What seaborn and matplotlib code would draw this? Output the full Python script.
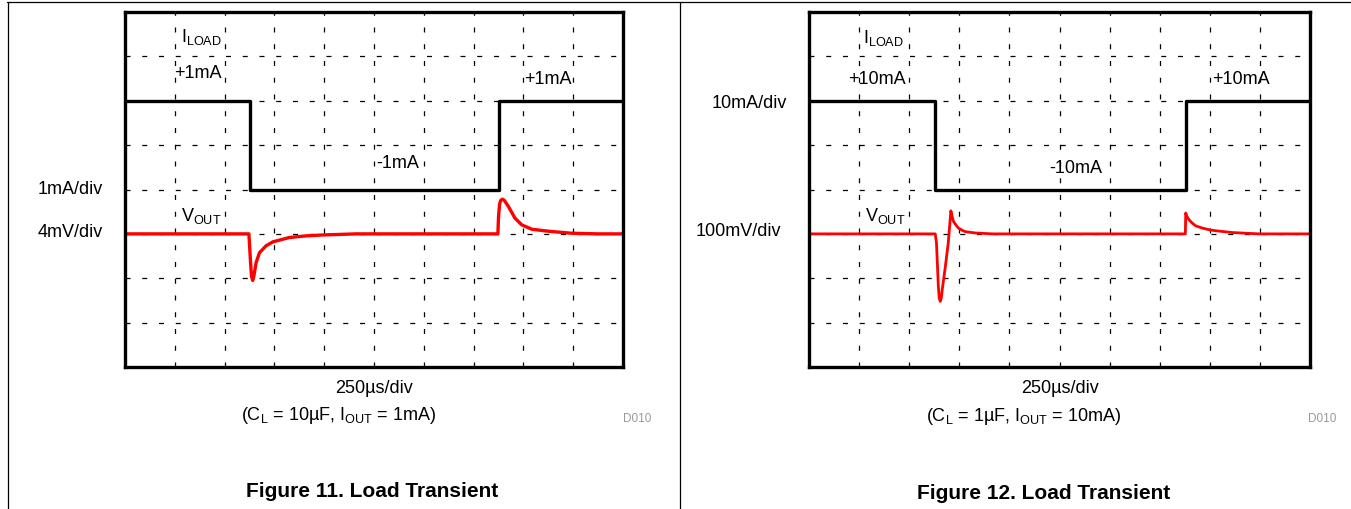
import matplotlib
matplotlib.use("Agg")
import matplotlib.pyplot as plt
from matplotlib.lines import Line2D
import seaborn as sns
import pandas as pd

# ---------------- data ----------------
# Figure 11 (left): CL = 10uF, IOUT = 1mA
left_t_load = [0, 625, 625, 1875, 1875, 2500]          # us
left_i_load = [1, 1, -1, -1, 1, 1]                      # mA
left_t_vout = [0, 622, 630, 635, 641, 647, 658, 675, 708, 742, 825, 908, 990, 1160,
               1872, 1875, 1880, 1885, 1895, 1905, 1925, 1958, 1992, 2042, 2125, 2240, 2375, 2500]
left_v_vout = [0, 0, -2.5, -3.8, -4.2, -3.8, -2.6, -1.7, -1.08, -0.72, -0.33, -0.18, -0.1, 0,
               0, 1.5, 2.6, 3.0, 3.13, 3.0, 2.46, 1.41, 0.81, 0.42, 0.24, 0.06, 0, 0]   # mV

# Figure 12 (right): CL = 1uF, IOUT = 10mA
right_t_load = [0, 630, 630, 1880, 1880, 2500]
right_i_load = [10, 10, -10, -10, 10, 10]               # mA
right_t_vout = [0, 630, 636, 640, 645, 650, 655, 660, 665, 680, 695, 708, 714, 721, 735, 746,
                765, 780, 830, 915, 1878, 1880, 1885, 1896, 1913, 1930, 1963, 2000, 2030,
                2113, 2245, 2500]
right_v_vout = [0, 0, -20, -60, -115, -145, -152, -145, -125, -75, -20, 52, 40, 28, 19, 13,
                8, 5, 2, 0, 0, 47, 40, 32, 24, 18, 13, 9, 7, 3, 0, 0]          # mV

panels = [
    dict(t_load=left_t_load, i_load=left_i_load, t_vout=left_t_vout, v_vout=left_v_vout,
         i_div=1.0, v_div=4.0, i_lbl="1mA/div", v_lbl="4mV/div",
         hi_lbl="+1mA", lo_lbl="-1mA", cond=r"(C$_{\rm L}$ = 10µF, I$_{\rm OUT}$ = 1mA)",
         title="Figure 11. Load Transient", vlw=2.4),
    dict(t_load=right_t_load, i_load=right_i_load, t_vout=right_t_vout, v_vout=right_v_vout,
         i_div=10.0, v_div=100.0, i_lbl="10mA/div", v_lbl="100mV/div",
         hi_lbl="+10mA", lo_lbl="-10mA", cond=r"(C$_{\rm L}$ = 1µF, I$_{\rm OUT}$ = 10mA)",
         title="Figure 12. Load Transient", vlw=2.0),
]

# ---------------- style ----------------
sns.set_style("white")
plt.rcParams['font.family'] = ['Liberation Sans', 'DejaVu Sans']
plt.rcParams['text.color'] = 'black'
plt.rcParams['mathtext.fontset'] = 'custom'
plt.rcParams['mathtext.rm'] = 'Liberation Sans'
plt.rcParams['mathtext.it'] = 'Liberation Sans:italic'
plt.rcParams['mathtext.bf'] = 'Liberation Sans:bold'

W, H = 1351, 510
fig = plt.figure(figsize=(W / 100, H / 100), dpi=100)
fig.patch.set_facecolor("white")


def fx(x):
    return x / W


def fy(y):
    return 1 - y / H


# page frame lines
fig.add_artist(Line2D([fx(7), fx(1351)], [fy(3), fy(3)], color="black", lw=0.9))
fig.add_artist(Line2D([fx(7.5), fx(7.5)], [fy(3), fy(510)], color="black", lw=0.9))
fig.add_artist(Line2D([fx(679.5), fx(679.5)], [fy(3), fy(510)], color="black", lw=0.9))

boxes = [(125, 623), (809, 1310)]
box_top, box_bot = 13, 368

# label positions per panel (pixel coords)
label_pos = [
    dict(iload=(181, 37), vout=(181, 216), hi1=(198, 74), hi2=(548, 80), lo=(398, 164),
         idiv=(103, 189), vdiv=(103, 233), xl=(374, 389), cond=(339, 416), d=(637, 419),
         title=(372, 492)),
    dict(iload=(863, 38), vout=(865, 216), hi1=(877, 79), hi2=(1241, 80), lo=(1076, 169),
         idiv=(787, 104), vdiv=(781, 232), xl=(1060, 389), cond=(1024, 417), d=(1322, 419),
         title=(1044, 494)),
]

FS = 13
for p, (x0, x1), lp in zip(panels, boxes, label_pos):
    ax = fig.add_axes([fx(x0), fy(box_bot), (x1 - x0) / W, (box_bot - box_top) / H])
    # convert to screen divisions (8 vertical divisions)
    load_df = pd.DataFrame({"t": p["t_load"],
                            "div": [5 + v / p["i_div"] for v in p["i_load"]]})
    vout_df = pd.DataFrame({"t": p["t_vout"],
                            "div": [3 + v / p["v_div"] for v in p["v_vout"]]})
    sns.lineplot(data=load_df, x="t", y="div", ax=ax, color="black", lw=2.4,
                 estimator=None, sort=False, zorder=3)
    sns.lineplot(data=vout_df, x="t", y="div", ax=ax, color="#ff0000", lw=p["vlw"],
                 estimator=None, sort=False, zorder=4)
    ax.set_xlim(0, 2500)
    ax.set_ylim(0, 8)
    ax.set_xticks(range(250, 2500, 250))
    ax.set_yticks(range(1, 8))
    ax.tick_params(length=0, labelbottom=False, labelleft=False)
    ax.grid(True, color="black", lw=0.9, ls=(0, (4.0, 9.4)))
    ax.set_xlabel("")
    ax.set_ylabel("")
    for s in ax.spines.values():
        s.set_visible(True)
        s.set_color("black")
        s.set_linewidth(2.4)
        s.set_zorder(5)

    fig.text(fx(lp["iload"][0]), fy(lp["iload"][1]), r"I$_{\rm LOAD}$", fontsize=FS,
             ha="left", va="center")
    fig.text(fx(lp["vout"][0]), fy(lp["vout"][1]), r"V$_{\rm OUT}$", fontsize=FS,
             ha="left", va="center")
    fig.text(fx(lp["hi1"][0]), fy(lp["hi1"][1]), p["hi_lbl"], fontsize=FS, ha="center", va="center")
    fig.text(fx(lp["hi2"][0]), fy(lp["hi2"][1]), p["hi_lbl"], fontsize=FS, ha="center", va="center")
    fig.text(fx(lp["lo"][0]), fy(lp["lo"][1]), p["lo_lbl"], fontsize=FS, ha="center", va="center")
    fig.text(fx(lp["idiv"][0]), fy(lp["idiv"][1]), p["i_lbl"], fontsize=FS, ha="right", va="center")
    fig.text(fx(lp["vdiv"][0]), fy(lp["vdiv"][1]), p["v_lbl"], fontsize=FS, ha="right", va="center")
    fig.text(fx(lp["xl"][0]), fy(lp["xl"][1]), "250µs/div", fontsize=FS, ha="center", va="center")
    fig.text(fx(lp["cond"][0]), fy(lp["cond"][1]), p["cond"], fontsize=FS, ha="center", va="center")
    fig.text(fx(lp["d"][0]), fy(lp["d"][1]), "D010", fontsize=8.5, color="#999999",
             ha="center", va="center")
    fig.text(fx(lp["title"][0]), fy(lp["title"][1]), p["title"], fontsize=15,
             fontweight="bold", ha="center", va="center")

fig.savefig("out.png", dpi=100, facecolor="white")
